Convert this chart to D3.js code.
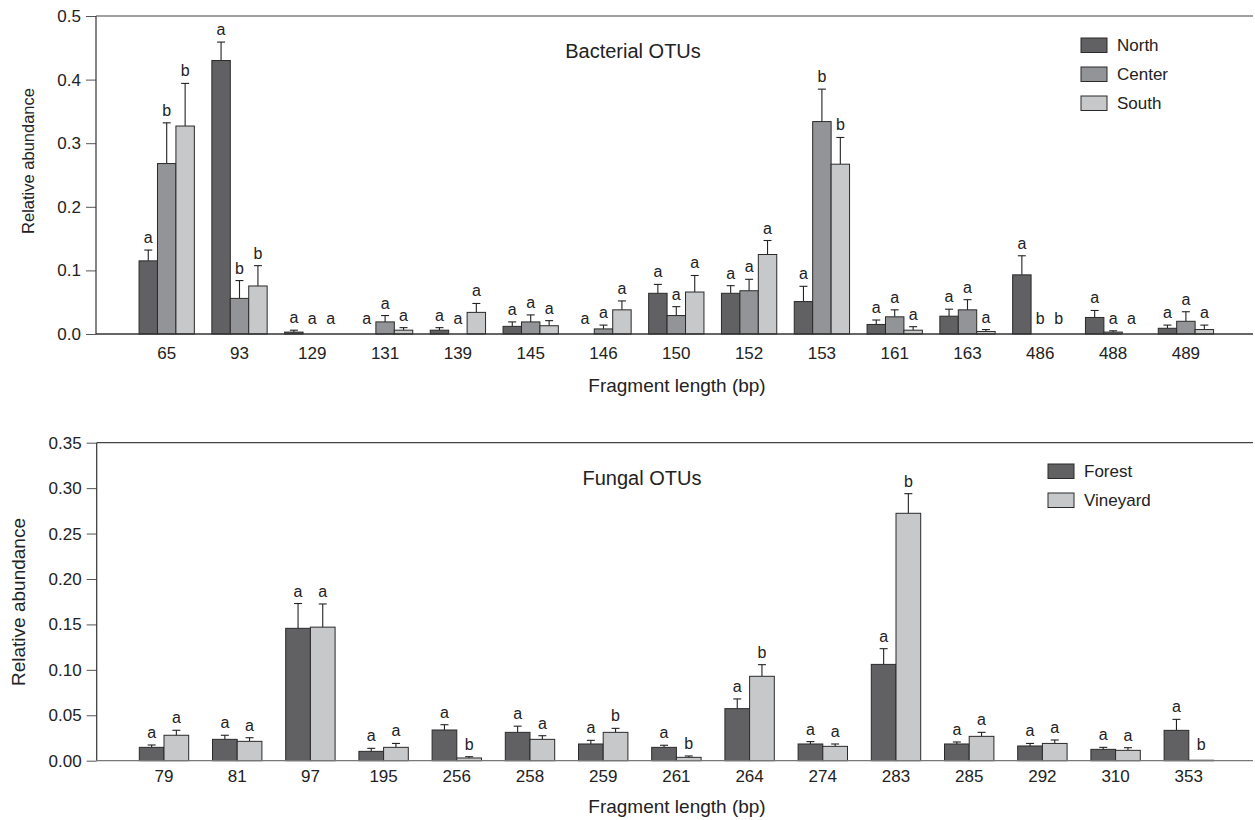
<!DOCTYPE html>
<html>
<head>
<meta charset="utf-8">
<script src="https://cdn.jsdelivr.net/npm/d3@7/dist/d3.min.js"></script>
<style>
  body { margin: 0; background: #fff; }
  svg { font-family: "Liberation Sans", Arial, sans-serif; }
  text { fill: #222; }
</style>
</head>
<body>
<svg width="1255" height="820"></svg>
<script>
// --- bacterial OTUs (top panel)
var bactLengths = ['65','93','129','131','139','145','146','150','152','153','161','163','486','488','489'];
var bactNorth   = [0.115,0.430,0.003,0,0.006,0.012,0,0.064,0.064,0.051,0.015,0.028,0.093,0.026,0.009];
var bactNorthSE = [0.017,0.029,0.003,0,0.004,0.007,0,0.014,0.012,0.024,0.007,0.011,0.030,0.011,0.005];
var bactCenter  = [0.268,0.056,0,0.019,0,0.019,0.008,0.029,0.068,0.334,0.027,0.038,0,0.003,0.020];
var bactCenterSE= [0.064,0.028,0,0.010,0,0.011,0.006,0.014,0.018,0.051,0.011,0.016,0,0.002,0.015];
var bactSouth   = [0.327,0.0755,0,0.006,0.034,0.013,0.038,0.066,0.125,0.267,0.006,0.004,0,0,0.007];
var bactSouthSE = [0.067,0.032,0,0.004,0.014,0.008,0.014,0.026,0.022,0.042,0.0055,0.003,0,0,0.007];
var bactNorthLet  = ['a','a','a','a','a','a','a','a','a','a','a','a','a','a','a'];
var bactCenterLet = ['b','b','a','a','a','a','a','a','a','b','a','a','b','a','a'];
var bactSouthLet  = ['b','b','a','a','a','a','a','a','a','b','a','a','b','a','a'];
var bactTicks = [0,0.1,0.2,0.3,0.4,0.5];

// --- fungal OTUs (bottom panel)
var fungLengths = ['79','81','97','195','256','258','259','261','264','274','283','285','292','310','353'];
var forest     = [0.0147,0.0235,0.1457,0.0103,0.0338,0.0312,0.0184,0.0147,0.0573,0.0184,0.106,0.0184,0.0162,0.0125,0.0334];
var forestSE   = [0.0026,0.0045,0.0273,0.0033,0.0058,0.0068,0.004,0.0023,0.0107,0.0026,0.0173,0.0022,0.0028,0.0022,0.0121];
var vineyard   = [0.028,0.0213,0.147,0.0147,0.003,0.0235,0.0312,0.0037,0.0929,0.0158,0.2723,0.0268,0.019,0.0114,0.0005];
var vineyardSE = [0.0055,0.004,0.0255,0.0043,0.0014,0.004,0.0044,0.0015,0.0128,0.0026,0.0216,0.0044,0.0038,0.0029,0];
var forestLet   = ['a','a','a','a','a','a','a','a','a','a','a','a','a','a','a'];
var vineyardLet = ['a','a','a','a','b','a','b','b','b','a','b','a','a','a','b'];
var fungTicks = [0,0.05,0.10,0.15,0.20,0.25,0.30,0.35];

var svg = d3.select('svg');

function drawPanel(p) {
  var g = svg.append('g');

  var x = d3.scaleBand().domain(p.cats).range(p.bandRange);
  var inner = d3.scaleBand().domain(d3.range(p.series.length))
      .range([-p.groupW / 2, p.groupW / 2]);
  var y = d3.scaleLinear().domain([0, p.yMax]).range([p.bottom, p.top]);

  // y axis with ticks
  var yAxis = g.append('g')
      .attr('transform', 'translate(' + p.left + ',0)')
      .call(d3.axisLeft(y).tickValues(p.ticks).tickFormat(d3.format(p.fmt)).tickSize(10).tickPadding(5));
  yAxis.select('.domain').remove();
  yAxis.selectAll('line').attr('stroke', '#555');
  yAxis.selectAll('text').attr('font-size', 17).attr('fill', '#222')
      .attr('font-family', '"Liberation Sans", Arial, sans-serif');

  // frame: left, top, bottom
  g.append('line').attr('x1', p.left).attr('x2', p.left).attr('y1', p.top).attr('y2', p.bottom)
      .attr('stroke', '#333').attr('stroke-width', 1.2);
  g.append('line').attr('x1', p.left).attr('x2', 1253).attr('y1', p.top).attr('y2', p.top)
      .attr('stroke', '#444').attr('stroke-width', 1.2);

  // bars
  p.series.forEach(function (s, si) {
    var sg = g.append('g');
    var rows = p.cats.map(function (c, i) {
      return { c: c, v: s.values[i], se: s.se[i], l: s.letters[i] };
    });
    var cx = function (d) { return x(d.c) + x.bandwidth() / 2 + inner(si) + inner.bandwidth() / 2; };

    sg.selectAll('line.err').data(rows.filter(function (d) { return d.se > 0; })).enter()
      .append('line').attr('class', 'err')
      .attr('x1', cx).attr('x2', cx)
      .attr('y1', function (d) { return y(d.v); })
      .attr('y2', function (d) { return y(d.v + d.se); })
      .attr('stroke', '#222').attr('stroke-width', 1.1);
    sg.selectAll('line.cap').data(rows.filter(function (d) { return d.se > 0; })).enter()
      .append('line').attr('class', 'cap')
      .attr('x1', function (d) { return cx(d) - 4; }).attr('x2', function (d) { return cx(d) + 4; })
      .attr('y1', function (d) { return y(d.v + d.se); })
      .attr('y2', function (d) { return y(d.v + d.se); })
      .attr('stroke', '#222').attr('stroke-width', 1.1);

    sg.selectAll('rect').data(rows).enter().append('rect')
      .attr('x', function (d) { return x(d.c) + x.bandwidth() / 2 + inner(si); })
      .attr('width', inner.bandwidth())
      .attr('y', function (d) { return y(d.v); })
      .attr('height', function (d) { return y(0) - y(d.v); })
      .attr('fill', s.color)
      .attr('stroke', '#2a2a2a').attr('stroke-width', 1);

    sg.selectAll('text').data(rows).enter().append('text')
      .attr('x', cx)
      .attr('y', function (d) { return y(d.v + d.se) - (d.se > 0 ? 7 : 10); })
      .attr('text-anchor', 'middle')
      .attr('font-size', 16)
      .text(function (d) { return d.l; });
  });

  // baseline
  g.append('line').attr('x1', p.left).attr('x2', 1253).attr('y1', p.bottom).attr('y2', p.bottom)
      .attr('stroke', p.baseColor).attr('stroke-width', 1.3);

  // category labels
  var xAxis = g.append('g')
      .attr('transform', 'translate(0,' + p.bottom + ')')
      .call(d3.axisBottom(x).tickSize(0).tickPadding(p.xPad));
  xAxis.select('.domain').remove();
  xAxis.selectAll('text').attr('font-size', 17).attr('fill', '#222')
      .attr('font-family', '"Liberation Sans", Arial, sans-serif');

  // titles
  g.append('text').attr('x', p.titleX).attr('y', p.titleY).attr('text-anchor', 'middle')
      .attr('font-size', 20).text(p.title);
  g.append('text').attr('x', 677).attr('y', p.xTitleY).attr('text-anchor', 'middle')
      .attr('font-size', 19).text('Fragment length (bp)');
  g.append('text')
      .attr('transform', 'translate(' + p.yTitleX + ',' + p.yTitleY + ') rotate(-90)')
      .attr('text-anchor', 'middle').attr('font-size', p.yTitleSize)
      .text('Relative abundance');

  // legend
  var lg = g.append('g').attr('transform', 'translate(' + p.legX + ',' + p.legY + ')');
  p.series.forEach(function (s, i) {
    lg.append('rect').attr('x', 0).attr('y', i * 29).attr('width', 26).attr('height', 14.5)
      .attr('fill', s.color).attr('stroke', '#2a2a2a').attr('stroke-width', 1);
    lg.append('text').attr('x', 36).attr('y', i * 29 + 13).attr('font-size', 17).text(s.name);
  });
}

drawPanel({
  cats: bactLengths,
  series: [
    { name: 'North',  values: bactNorth,  se: bactNorthSE,  letters: bactNorthLet,  color: '#616163' },
    { name: 'Center', values: bactCenter, se: bactCenterSE, letters: bactCenterLet, color: '#939498' },
    { name: 'South',  values: bactSouth,  se: bactSouthSE,  letters: bactSouthLet,  color: '#c7c8ca' }
  ],
  bandRange: [130.3, 1222.3], groupW: 55.3,
  left: 96, top: 16, bottom: 334, yMax: 0.5, ticks: bactTicks, fmt: '.1f',
  baseColor: '#333', xPad: 13,
  title: 'Bacterial OTUs', titleX: 633, titleY: 58,
  xTitleY: 392, yTitleX: 34, yTitleY: 161, yTitleSize: 16.5,
  legX: 1081, legY: 38
});

drawPanel({
  cats: fungLengths,
  series: [
    { name: 'Forest',   values: forest,   se: forestSE,   letters: forestLet,   color: '#616163' },
    { name: 'Vineyard', values: vineyard, se: vineyardSE, letters: vineyardLet, color: '#c7c8ca' }
  ],
  bandRange: [127.4, 1225.4], groupW: 49.4,
  left: 96.7, top: 442.7, bottom: 760.7, yMax: 0.35, ticks: fungTicks, fmt: '.2f',
  baseColor: '#777', xPad: 9,
  title: 'Fungal OTUs', titleX: 642, titleY: 485,
  xTitleY: 813, yTitleX: 25, yTitleY: 602, yTitleSize: 19,
  legX: 1048, legY: 464
});
</script>
</body>
</html>
